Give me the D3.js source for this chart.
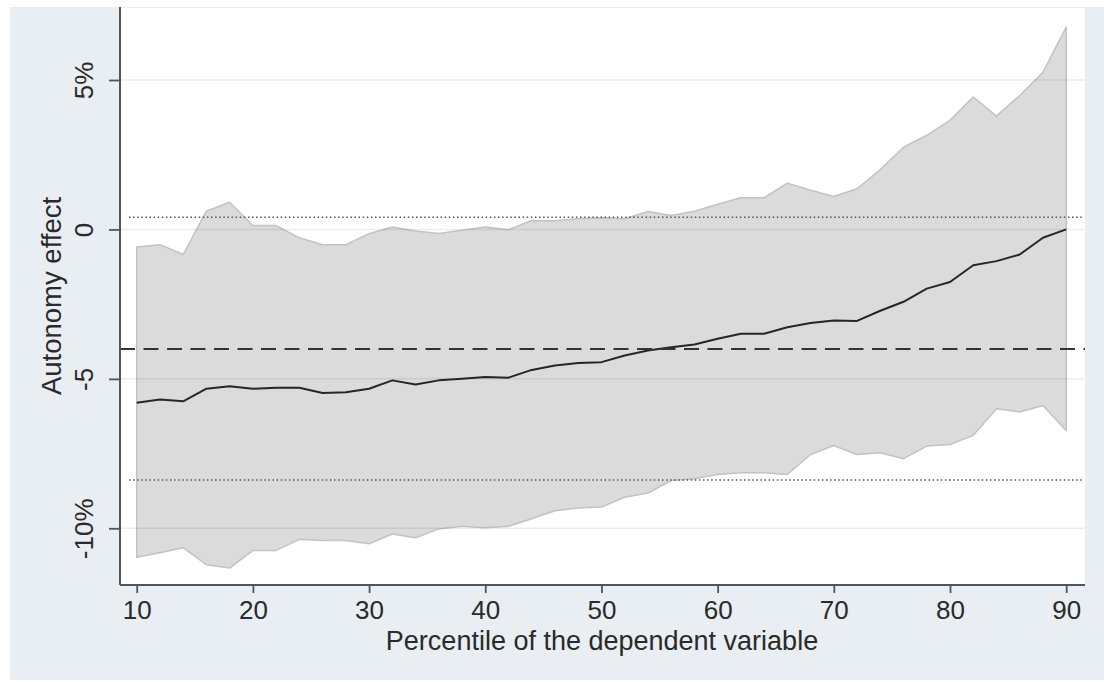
<!DOCTYPE html>
<html>
<head>
<meta charset="utf-8">
<script src="https://cdn.jsdelivr.net/npm/d3@7"></script>
<style>
  html, body { margin: 0; padding: 0; background: #ffffff; }
  svg { display: block; }
  text { font-family: "Liberation Sans", Arial, sans-serif; fill: #2a2a2a; }
</style>
</head>
<body>
<svg id="chart" width="1104" height="682"></svg>
<script>
// ---- data ----
const percentiles = [10,12,14,16,18,20,22,24,26,28,30,32,34,36,38,40,42,44,46,48,50,52,54,56,58,60,62,64,66,68,70,72,74,76,78,80,82,84,86,88,90];
const upperCI = [-0.59,-0.51,-0.84,0.61,0.91,0.13,0.13,-0.28,-0.51,-0.51,-0.14,0.08,-0.05,-0.14,-0.03,0.08,-0.01,0.30,0.29,0.36,0.39,0.36,0.60,0.47,0.61,0.84,1.06,1.06,1.55,1.31,1.10,1.36,2.00,2.75,3.15,3.65,4.43,3.79,4.48,5.26,6.77];
const effect = [-5.80,-5.69,-5.75,-5.33,-5.25,-5.33,-5.30,-5.30,-5.47,-5.45,-5.33,-5.05,-5.19,-5.05,-5.00,-4.94,-4.96,-4.70,-4.55,-4.47,-4.44,-4.22,-4.05,-3.94,-3.85,-3.66,-3.49,-3.49,-3.27,-3.13,-3.05,-3.06,-2.72,-2.42,-1.98,-1.76,-1.20,-1.06,-0.84,-0.28,0.00];
const lowerCI = [-10.97,-10.82,-10.65,-11.22,-11.33,-10.74,-10.74,-10.37,-10.41,-10.41,-10.52,-10.19,-10.32,-10.02,-9.93,-9.98,-9.93,-9.68,-9.41,-9.32,-9.29,-8.96,-8.82,-8.40,-8.34,-8.20,-8.14,-8.14,-8.20,-7.53,-7.23,-7.53,-7.47,-7.67,-7.25,-7.20,-6.89,-6.00,-6.11,-5.89,-6.73];
const meanEffect = -4.0;          // dashed line
const dottedBounds = [0.41, -8.38]; // dotted lines
const xTicks = [10,20,30,40,50,60,70,80,90];
const yTicks = [5,0,-5,-10];
const yTickLabels = ["5%","0","-5","-10%"];
const xTitle = "Percentile of the dependent variable";
const yTitle = "Autonomy effect";

// ---- layout ----
const svg = d3.select("#chart");
const plotL = 120, plotR = 1085, plotT = 7, plotB = 585;

const x = d3.scaleLinear().domain([10, 90]).range([136.7, 1066.2]);
const y = d3.scaleLinear().domain([-10, 5]).range([528.3, 80]);

// outer background
svg.append("rect").attr("x", 10).attr("y", 7).attr("width", 1094).attr("height", 673).attr("fill", "#e8eef1");
// plot region
svg.append("rect").attr("x", plotL).attr("y", plotT).attr("width", plotR - plotL).attr("height", plotB - plotT)
  .attr("fill", "#ffffff");
svg.append("line").attr("x1", plotL).attr("x2", plotR).attr("y1", plotT + 0.5).attr("y2", plotT + 0.5)
  .attr("stroke", "#eeeeee").attr("stroke-width", 1);

const data = percentiles.map((p, i) => ({p, lo: lowerCI[i], hi: upperCI[i], m: effect[i]}));

// confidence band
const area = d3.area().x(d => x(d.p)).y0(d => y(d.lo)).y1(d => y(d.hi));
svg.append("path").datum(data).attr("d", area)
  .attr("fill", "#dbdbdb").attr("stroke", "#c2c2c2").attr("stroke-width", 1.5).attr("stroke-linejoin", "round");

// gridlines (drawn over the band, translucent)
svg.append("g").selectAll("line").data(yTicks).join("line")
  .attr("x1", plotL).attr("x2", plotR)
  .attr("y1", d => y(d)).attr("y2", d => y(d))
  .attr("stroke", "rgba(0,0,0,0.075)").attr("stroke-width", 1.5);

// dotted reference lines
svg.append("g").selectAll("line").data(dottedBounds).join("line")
  .attr("x1", plotL + 9).attr("x2", plotR - 2)
  .attr("y1", d => y(d)).attr("y2", d => y(d))
  .attr("stroke", "#555").attr("stroke-width", 1.5).attr("stroke-dasharray", "1.5,2.6");

// effect line
svg.append("path").datum(data)
  .attr("d", d3.line().x(d => x(d.p)).y(d => y(d.m)))
  .attr("fill", "none").attr("stroke", "#262626").attr("stroke-width", 2).attr("stroke-linejoin", "round");

// dashed mean line
svg.append("line").attr("x1", plotL).attr("x2", plotR)
  .attr("y1", y(meanEffect)).attr("y2", y(meanEffect))
  .attr("stroke", "#333").attr("stroke-width", 2).attr("stroke-dasharray", "15,8.5");

// axes
const xAxis = d3.axisBottom(x).tickValues(xTicks).tickSize(8).tickFormat(d3.format("d"));
const gx = svg.append("g").attr("transform", `translate(0,${plotB})`).call(xAxis);
gx.select(".domain").remove();
gx.selectAll(".tick line").attr("stroke", "#555").attr("stroke-width", 1.8);
gx.selectAll(".tick text").attr("font-size", 26).attr("fill", "#2a2a2a")
  .attr("font-family", "Liberation Sans, Arial, sans-serif").attr("dy", null).attr("y", 34);
svg.append("line").attr("x1", plotL).attr("x2", plotR).attr("y1", plotB).attr("y2", plotB)
  .attr("stroke", "#555").attr("stroke-width", 2);

const yAxis = d3.axisLeft(y).tickValues(yTicks).tickSize(11).tickFormat((d, i) => yTickLabels[i]);
const gy = svg.append("g").attr("transform", `translate(${plotL},0)`).call(yAxis);
gy.select(".domain").remove();
gy.selectAll(".tick line").attr("stroke", "#555").attr("stroke-width", 1.8);
gy.selectAll(".tick text")
  .attr("font-size", 26).attr("fill", "#2a2a2a").attr("font-family", "Liberation Sans, Arial, sans-serif")
  .attr("x", null).attr("dy", null)
  .attr("text-anchor", "middle")
  .attr("transform", "translate(-27,0) rotate(-90)");
svg.append("line").attr("x1", plotL).attr("x2", plotL).attr("y1", plotT).attr("y2", plotB)
  .attr("stroke", "#555").attr("stroke-width", 2);

// titles
svg.append("text").attr("x", 602).attr("y", 650).attr("text-anchor", "middle")
  .attr("font-size", 27).text(xTitle);
svg.append("text").attr("transform", "translate(61,296) rotate(-90)").attr("text-anchor", "middle")
  .attr("font-size", 27.5).text(yTitle);
</script>
</body>
</html>
